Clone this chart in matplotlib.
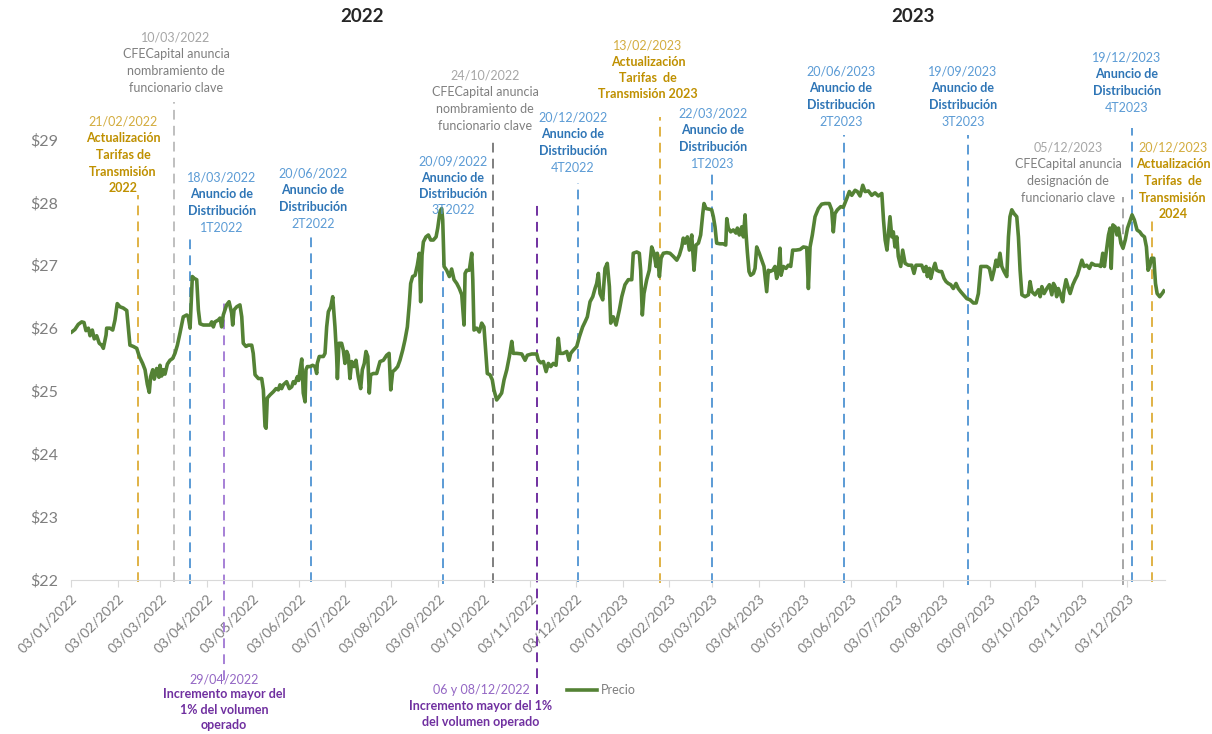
import matplotlib
matplotlib.use("Agg")
import matplotlib.pyplot as plt  # noqa: E402
from matplotlib.lines import Line2D  # noqa: E402
import pandas as pd  # noqa: E402

plt.rcParams["font.family"] = ["Lato", "DejaVu Sans"]

# Serie de precio: días transcurridos desde 03/01/2022 y precio en pesos
INICIO = pd.Timestamp("2022-01-03")

dias = [
    0.5, 2.6, 4.8, 7.1, 8.6, 9.9, 11.5, 12.6, 14.1, 15.4, 17.0, 18.7, 20.3, 21.4, 23.2, 23.6,
    25.8, 27.6, 29.1, 30.6, 32.4, 34.6, 36.9, 37.9, 39.0, 41.2, 43.5, 45.2, 47.4, 49.0, 50.5,
    51.8, 52.7, 54.1, 55.1, 56.7, 58.2, 58.9, 60.0, 61.1, 62.2, 63.8, 65.5, 67.3, 68.8, 70.4,
    72.1, 74.3, 76.6, 77.6, 78.8, 79.4, 80.3, 81.6, 83.2, 84.3, 85.4, 87.6, 89.8, 92.0, 93.1,
    94.2, 95.3, 97.5, 98.6, 99.7, 100.8, 103.0, 104.6, 106.3, 107.0, 107.9, 109.7, 111.8, 113.0,
    114.0, 115.8, 117.3, 119.6, 120.6, 121.8, 124.0, 126.2, 127.3, 128.4, 129.1, 129.9, 131.7,
    133.9, 135.7, 137.2, 138.3, 139.4, 140.5, 142.7, 144.5, 146.1, 147.1, 148.2, 149.8, 150.7,
    151.6, 152.7, 153.7, 154.9, 155.5, 156.4, 158.2, 159.9, 161.5, 162.6, 163.0, 164.3, 167.0,
    168.1, 169.2, 170.3, 171.9, 173.2, 174.7, 175.8, 176.3, 177.3, 179.1, 180.2, 181.3, 182.5,
    183.5, 184.6, 185.8, 187.3, 188.6, 190.1, 191.7, 192.8, 194.1, 195.2, 196.4, 197.4, 198.3,
    200.1, 202.3, 204.5, 206.7, 208.9, 210.5, 211.6, 212.9, 214.4, 216.2, 217.7, 219.5, 221.0,
    222.6, 223.9, 224.8, 226.1, 227.7, 229.2, 230.5, 231.4, 232.3, 233.2, 234.9, 236.5, 238.1,
    239.8, 241.6, 242.7, 244.2, 245.3, 246.0, 246.9, 248.6, 250.4, 251.9, 253.5, 255.3, 257.0,
    258.6, 260.1, 260.8, 261.9, 263.6, 265.2, 265.9, 266.7, 268.5, 270.2, 271.8, 273.3, 274.4,
    275.5, 277.3, 278.8, 279.9, 281.7, 283.3, 285.0, 286.6, 288.4, 290.1, 291.7, 292.7, 295.0,
    298.3, 300.5, 302.0, 304.9, 308.2, 309.3, 310.9, 312.6, 314.4, 315.9, 317.5, 319.2, 321.0,
    322.5, 323.6, 325.8, 328.1, 329.6, 330.7, 332.4, 334.7, 336.4, 338.6, 340.2, 341.7, 343.5,
    345.3, 346.8, 347.9, 349.0, 350.1, 351.9, 353.4, 354.9, 356.3, 357.2, 358.9, 360.7, 362.9,
    364.5, 366.6, 368.8, 371.1, 372.1, 374.4, 376.1, 377.0, 378.1, 379.2, 381.0, 382.7, 384.3,
    385.8, 387.2, 388.0, 389.4, 390.5, 392.0, 394.3, 396.4, 398.6, 400.9, 402.6, 404.2, 405.2,
    406.4, 407.9, 409.2, 410.8, 412.3, 413.6, 415.2, 416.7, 418.1, 418.9, 420.3, 422.4, 424.0,
    425.1, 426.2, 427.3, 429.5, 431.7, 433.3, 434.0, 435.0, 436.6, 438.3, 440.1, 441.0, 442.3,
    443.9, 445.0, 446.1, 446.7, 447.6, 448.7, 449.8, 451.6, 452.7, 453.8, 455.5, 457.1, 458.6,
    460.4, 461.5, 462.6, 464.4, 465.9, 467.0, 468.1, 469.2, 469.9, 471.4, 473.2, 474.7, 476.3,
    477.6, 479.8, 482.5, 484.7, 486.9, 488.0, 489.1, 490.6, 492.4, 494.6, 496.8, 499.0, 501.8,
    503.4, 504.5, 505.6, 507.2, 509.4, 511.1, 513.4, 515.1, 516.7, 518.9, 520.4, 522.2, 524.0,
    525.5, 527.7, 529.9, 532.1, 534.3, 536.6, 537.7, 538.8, 540.0, 541.0, 542.0, 543.2, 544.2,
    545.3, 546.5, 547.5, 549.1, 550.4, 552.0, 554.1, 556.4, 557.9, 559.2, 561.4, 563.0, 564.5,
    565.9, 566.7, 568.1, 569.0, 570.3, 571.8, 572.9, 574.7, 576.2, 577.8, 579.1, 580.6, 582.2,
    583.9, 585.7, 587.2, 588.8, 590.6, 592.8, 595.0, 597.2, 599.0, 600.5, 602.1, 603.8, 606.1,
    607.8, 609.4, 610.9, 612.2, 613.4, 614.8, 616.0, 617.5, 619.3, 620.4, 621.4, 622.6, 624.1,
    625.9, 627.0, 628.1, 629.3, 631.4, 633.6, 634.7, 635.9, 638.0, 640.2, 641.4, 642.5, 644.0,
    645.8, 647.5, 649.1, 650.2, 651.3, 652.3, 653.4, 655.0, 656.3, 657.2, 658.5, 660.1, 661.2,
    663.0, 664.5, 666.0, 667.4, 669.0, 670.4, 672.2, 674.0, 675.5, 677.7, 679.9, 681.5, 682.8,
    683.9, 685.0, 686.6, 687.7, 688.4, 689.5, 691.0, 692.2, 693.2, 694.8, 696.2, 697.7, 699.2,
    700.6, 702.2, 703.7, 705.5, 707.3, 708.8, 710.4, 711.7, 712.8, 713.9, 715.0, 716.6, 717.7,
    718.8, 720.5, 722.1, 723.2,
]

precio = [
    25.94, 25.98, 26.06, 26.10, 26.09, 25.96, 26.00, 25.88, 25.97, 25.83, 25.88, 25.76, 25.73,
    25.68, 25.89, 26.00, 26.00, 25.97, 26.13, 26.39, 26.34, 26.32, 26.28, 26.02, 25.73, 25.71,
    25.68, 25.55, 25.44, 25.34, 25.11, 24.98, 25.23, 25.34, 25.19, 25.36, 25.22, 25.41, 25.24,
    25.34, 25.27, 25.43, 25.49, 25.52, 25.60, 25.73, 25.92, 26.18, 26.21, 26.18, 26.00, 26.34,
    26.82, 26.79, 26.77, 26.29, 26.07, 26.05, 26.05, 26.05, 26.10, 26.02, 26.10, 26.13, 26.16,
    26.02, 26.21, 26.37, 26.42, 26.24, 26.05, 26.29, 26.34, 26.37, 26.18, 25.76, 25.71, 25.73,
    25.73, 25.60, 25.26, 25.20, 25.20, 25.02, 24.44, 24.41, 24.89, 24.94, 24.99, 25.04, 25.02,
    25.10, 25.04, 25.10, 25.15, 25.04, 25.07, 25.15, 25.12, 25.23, 25.17, 25.34, 25.51, 24.97,
    24.83, 25.34, 25.39, 25.39, 25.41, 25.39, 25.28, 25.44, 25.55, 25.55, 25.60, 26.02, 26.26,
    26.34, 26.50, 26.02, 25.55, 25.20, 25.76, 25.76, 25.65, 25.44, 25.63, 25.57, 25.20, 25.47,
    25.39, 25.49, 25.23, 25.04, 25.34, 25.44, 25.63, 25.55, 24.97, 25.26, 25.28, 25.28, 25.47,
    25.49, 25.57, 25.60, 25.02, 25.31, 25.34, 25.39, 25.49, 25.65, 25.81, 26.02, 26.39, 26.71,
    26.82, 26.84, 27.00, 27.19, 26.42, 27.16, 27.37, 27.45, 27.48, 27.40, 27.40, 27.45, 27.59,
    27.85, 27.90, 27.72, 26.98, 26.92, 26.82, 26.94, 26.77, 26.71, 26.63, 26.53, 26.05, 26.87,
    26.92, 26.92, 27.19, 26.77, 25.97, 26.00, 25.94, 26.08, 26.02, 25.65, 25.28, 25.26, 25.18,
    25.02, 24.86, 24.91, 24.97, 25.18, 25.34, 25.55, 25.79, 25.60, 25.60, 25.59, 25.49, 25.57,
    25.59, 25.59, 25.49, 25.45, 25.47, 25.31, 25.44, 25.39, 25.44, 25.41, 25.84, 25.60, 25.60,
    25.63, 25.49, 25.60, 25.65, 25.71, 25.86, 26.02, 26.10, 26.18, 26.42, 26.50, 26.63, 26.71,
    26.87, 26.55, 26.45, 26.95, 27.03, 26.66, 26.08, 26.18, 26.05, 26.29, 26.50, 26.69, 26.77,
    26.77, 27.19, 27.21, 27.19, 26.92, 26.21, 26.55, 26.77, 26.92, 27.29, 27.19, 26.98, 27.19,
    26.82, 27.11, 27.19, 27.20, 27.19, 27.14, 27.08, 27.16, 27.29, 27.43, 27.35, 27.45, 27.24,
    27.48, 26.92, 27.32, 27.35, 27.48, 27.82, 27.98, 27.90, 27.89, 27.88, 27.77, 27.61, 27.35,
    27.34, 27.34, 27.32, 27.74, 27.59, 27.53, 27.56, 27.51, 27.59, 27.48, 27.61, 27.45, 27.80,
    27.51, 27.21, 26.90, 26.84, 26.87, 26.95, 27.29, 27.19, 27.08, 26.98, 26.58, 26.92, 26.90,
    26.92, 26.98, 26.79, 26.92, 27.27, 26.84, 26.98, 26.95, 27.00, 26.98, 27.24, 27.24, 27.25,
    27.29, 27.28, 26.63, 27.29, 27.48, 27.77, 27.90, 27.97, 27.98, 27.98, 27.88, 27.53, 27.82,
    27.88, 27.93, 27.92, 28.06, 28.17, 28.11, 28.19, 28.17, 28.10, 28.27, 28.17, 28.18, 28.11,
    28.15, 28.10, 28.14, 27.72, 27.40, 27.24, 27.51, 27.77, 27.45, 27.53, 27.29, 27.45, 27.14,
    26.98, 27.24, 27.03, 27.00, 27.00, 26.87, 27.00, 27.00, 27.00, 26.90, 26.98, 26.82, 26.95,
    26.79, 26.92, 27.03, 26.92, 26.90, 26.90, 26.79, 26.74, 26.71, 26.69, 26.63, 26.71, 26.63,
    26.58, 26.53, 26.47, 26.45, 26.40, 26.40, 26.55, 26.98, 26.98, 26.98, 26.95, 26.77, 26.92,
    27.08, 26.98, 27.19, 26.98, 26.90, 26.82, 27.45, 27.77, 27.88, 27.82, 27.77, 27.45, 26.92,
    26.53, 26.50, 26.53, 26.74, 26.58, 26.53, 26.61, 26.50, 26.66, 26.55, 26.63, 26.69, 26.53,
    26.71, 26.66, 26.50, 26.63, 26.53, 26.42, 26.61, 26.77, 26.63, 26.55, 26.69, 26.77, 26.84,
    26.95, 27.08, 26.98, 27.00, 26.95, 27.03, 27.00, 27.00, 26.98, 27.19, 26.98, 27.19, 27.48,
    27.59, 26.95, 27.64, 27.61, 27.48, 27.59, 27.35, 27.27, 27.40, 27.59, 27.69, 27.80, 27.72,
    27.56, 27.53, 27.48, 27.45, 27.29, 26.92, 26.98, 27.11, 27.11, 26.71, 26.55, 26.50, 26.55,
    26.59,
]

# Eventos marcados con líneas verticales (días desde 03/01/2022, según su posición en la gráfica)
evento_dias = [44.5, 68.2, 79.0, 101.5, 158.8, 246.4, 279.5, 308.6, 335.3,
               389.8, 424.4, 511.6, 593.8, 696.4, 702.0, 715.2]
evento_tipo = ["tarifa", "funcionario", "distribucion", "volumen", "distribucion",
               "distribucion", "funcionario", "volumen", "distribucion", "tarifa",
               "distribucion", "distribucion", "distribucion", "funcionario",
               "distribucion", "tarifa"]

anios = ["2022", "2023"]

# ---- estilo ----
VERDE = "#548235"
GRIS_EJE = "#7F7F7F"
COLORES = {
    "tarifa": {"linea": "#E0B245", "fecha": "#D3AC3E", "bold": "#BF9000", "normal": "#BF9000"},
    "distribucion": {"linea": "#5B9BD5", "fecha": "#5B9BD5", "bold": "#2E75B6", "normal": "#5B9BD5"},
    "funcionario": {"linea": "#A6A6A6", "fecha": "#A6A6A6", "bold": "#7F7F7F", "normal": "#7F7F7F"},
    "volumen": {"linea": "#A680D6", "fecha": "#9467C4", "bold": "#7030A0", "normal": "#7030A0"},
}
# color propio de algunas líneas
color_linea = {1: "#BFBFBF", 6: "#7F7F7F", 7: "#7030A0"}
# extremos (en $) de cada línea vertical
tope = [28.11, 29.59, 27.45, 26.42, 27.45, 27.83, 29.02, 27.96, 28.31,
        29.35, 28.46, 29.07, 29.07, 28.08, 29.18, 27.75]
base = [21.97, 21.97, 21.93, 20.41, 21.97, 21.93, 21.95, 20.19, 21.97,
        21.95, 21.95, 21.95, 21.92, 21.92, 21.97, 21.97]

W, H = 1212, 734

# bloques de texto: (centro x px, y px de la primera línea, tipo, paso px, [(texto, rol)])
bloques = [
    (123, 122, "tarifa", 16.5, [("21/02/2022", "fecha"), ("Actualización", "bold"), ("Tarifas de", "bold"),
                                ("Transmisión", "bold"), ("2022", "bold")]),
    (176, 38, "funcionario", 16.5, [("10/03/2022", "fecha"), ("CFECapital anuncia", "normal"),
                                    ("nombramiento de", "normal"), ("funcionario clave", "normal")]),
    (222, 178, "distribucion", 16.5, [("18/03/2022", "fecha"), ("Anuncio de", "bold"),
                                      ("Distribución", "bold"), ("1T2022", "normal")]),
    (313, 174, "distribucion", 16.5, [("20/06/2022", "fecha"), ("Anuncio de", "bold"),
                                      ("Distribución", "bold"), ("2T2022", "normal")]),
    (453, 161, "distribucion", 16.5, [("20/09/2022", "fecha"), ("Anuncio de", "bold"),
                                      ("Distribución", "bold"), ("3T2022", "normal")]),
    (485, 76, "funcionario", 16.5, [("24/10/2022", "fecha"), ("CFECapital anuncia", "normal"),
                                    ("nombramiento de", "normal"), ("funcionario clave", "normal")]),
    (573, 118, "distribucion", 16.5, [("20/12/2022", "fecha"), ("Anuncio de", "bold"),
                                      ("Distribución", "bold"), ("4T2022", "normal")]),
    (648, 45, "tarifa", 16.5, [("13/02/2023", "fecha"), ("Actualización", "bold"), ("Tarifas  de", "bold"),
                               ("Transmisión 2023", "bold")]),
    (713, 114, "distribucion", 16.5, [("22/03/2022", "fecha"), ("Anuncio de", "bold"),
                                      ("Distribución", "bold"), ("1T2023", "normal")]),
    (841, 72, "distribucion", 16.5, [("20/06/2023", "fecha"), ("Anuncio de", "bold"),
                                     ("Distribución", "bold"), ("2T2023", "normal")]),
    (963, 72, "distribucion", 16.5, [("19/09/2023", "fecha"), ("Anuncio de", "bold"),
                                     ("Distribución", "bold"), ("3T2023", "normal")]),
    (1127, 58, "distribucion", 16.5, [("19/12/2023", "fecha"), ("Anuncio de", "bold"),
                                      ("Distribución", "bold"), ("4T2023", "normal")]),
    (1068, 148, "funcionario", 16.5, [("05/12/2023", "fecha"), ("CFECapital anuncia", "normal"),
                                      ("designación de", "normal"), ("funcionario clave", "normal")]),
    (1173, 148, "tarifa", 16.5, [("20/12/2023", "fecha"), ("Actualización", "bold"), ("Tarifas  de", "bold"),
                                 ("Transmisión", "bold"), ("2024", "bold")]),
    (224, 679, "volumen", 15.3, [("29/04/2022", "fecha"), ("Incremento mayor del", "bold"),
                                 ("1% del volumen", "bold"), ("operado", "bold")]),
    (481, 690, "volumen", 16.0, [("06 y 08/12/2022", "fecha"), ("Incremento mayor del 1%", "bold"),
                                 ("del volumen operado", "bold")]),
]

fig = plt.figure(figsize=(W / 100, H / 100), dpi=100)
ax = fig.add_axes([71 / W, 154 / H, 1094 / W, 440.7 / H])

fechas = INICIO + pd.to_timedelta(dias, unit="D")
ax.plot(fechas, precio, color=VERDE, lw=2.6, solid_joinstyle="round", zorder=3, label="Precio")

for i, (d, t) in enumerate(zip(evento_dias, evento_tipo)):
    x = INICIO + pd.Timedelta(days=d)
    c = color_linea.get(i, COLORES[t]["linea"])
    ax.plot([x, x], [base[i], tope[i]], color=c, lw=1.4, ls=(0, (5, 3.2)),
            clip_on=False, zorder=2)

ax.set_ylim(22, 29)
ax.set_xlim(INICIO, INICIO + pd.Timedelta(days=724))
ax.set_yticks(range(22, 30))
ax.yaxis.set_major_formatter(lambda v, p: f"${v:.0f}")

ticks = pd.date_range("2022-01-01", "2023-12-01", freq="MS") + pd.Timedelta(days=2)
ax.set_xticks(ticks)
ax.set_xticklabels([t.strftime("%d/%m/%Y") for t in ticks], rotation=45,
                   ha="right", rotation_mode="anchor")

for s in ("top", "right", "left"):
    ax.spines[s].set_visible(False)
ax.spines["bottom"].set_color("#D9D9D9")
ax.tick_params(axis="x", length=5, color="#D9D9D9", labelcolor=GRIS_EJE, labelsize=10, pad=4)
ax.tick_params(axis="y", length=0, labelcolor=GRIS_EJE, labelsize=11.5, pad=9)

# títulos de año
for anio, cx in zip(anios, (362, 913)):
    fig.text(cx / W, 1 - 17 / H, anio, ha="center", va="center", fontsize=13.5,
             fontweight="bold", color="#262626")

# anotaciones de eventos
for cx, y0, tipo, paso, lineas in bloques:
    for k, (txt, rol) in enumerate(lineas):
        fig.text(cx / W, 1 - (y0 + k * paso) / H, txt, ha="center", va="center",
                 fontsize=9, fontweight="bold" if rol == "bold" else "normal",
                 color=COLORES[tipo][rol])

ax.legend(handles=[Line2D([0], [0], color=VERDE, lw=2.6)], labels=["Precio"],
          loc="center left", bbox_to_anchor=(561 / W, 1 - 690 / H),
          bbox_transform=fig.transFigure, frameon=False, borderpad=0,
          handlelength=2.4, handletextpad=0.3, fontsize=9, labelcolor=GRIS_EJE)

fig.savefig("out.png", dpi=100, facecolor="white")
plt.close(fig)
